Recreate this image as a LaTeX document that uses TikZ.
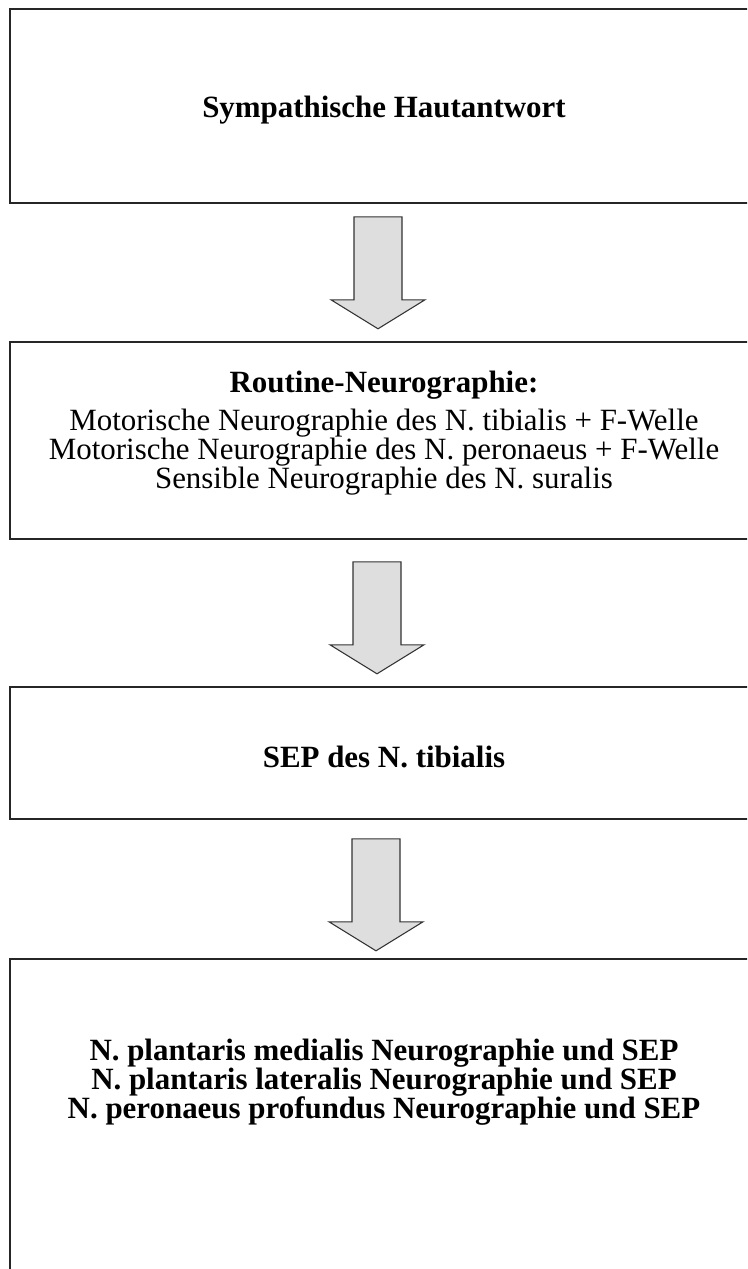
\documentclass[tikz,border=0pt]{standalone}
\usepackage{fontspec}
\setmainfont{Liberation Serif}
\usetikzlibrary{positioning}
\tikzset{
    stepbox/.style={
           draw=black!85, line width=1.2pt,
           minimum width=561pt,
           inner sep=0pt,
           },
}
\tikzset{
    steptext/.style={
           inner sep=0pt,
           align=center,
           font=\fontsize{23.2}{21.75}\selectfont,
           },
}
\tikzset{
    flowarrow/.pic={
           \draw[draw=black!80, line width=0.8pt, fill=black!13]
             (-24,0) -- (24,0) -- (24,83) -- (47,83) -- (0,112) -- (-47,83) -- (-24,83) -- cycle;
           },
}

\begin{document}
\begin{tikzpicture}[x=0.75pt,y=-0.75pt]
\useasboundingbox (0,0) rectangle (747,1269);
\begin{scope}
\clip (0,0) rectangle (747,1269);
\node[stepbox,minimum height=145.5pt](sympath) at (384,106){};
\node[stepbox,minimum height=147.75pt](routine) at (384,440.5){};
\node[stepbox,minimum height=99pt](sep) at (384,753){};
\node[stepbox,minimum height=248.25pt](plantaris) at (384,1124.5){};
\end{scope}
\node[steptext](sympathtext) at (384,110){\textbf{Sympathische Hautantwort}};
\node[steptext](routinetext) at (384,433){\textbf{Routine-Neurographie:}\\[6.75pt]
  Motorische Neurographie des N. tibialis + F-Welle\\
  Motorische Neurographie des N. peronaeus + F-Welle\\
  Sensible Neurographie des N. suralis};
\node[steptext](septext) at (384,757){\textbf{SEP des N. tibialis}};
\node[steptext,font=\fontsize{23.2}{21.75}\selectfont\bfseries](plantaristext) at (384,1082){N. plantaris medialis Neurographie und SEP\\
  N. plantaris lateralis Neurographie und SEP\\
  N. peronaeus profundus Neurographie und SEP};
\path (sympath.south) ++(-6,13) pic {flowarrow};
\path (routine.south) ++(-7,22) pic {flowarrow};
\path (sep.south) ++(-8,19) pic {flowarrow};
\end{tikzpicture}
\end{document}
